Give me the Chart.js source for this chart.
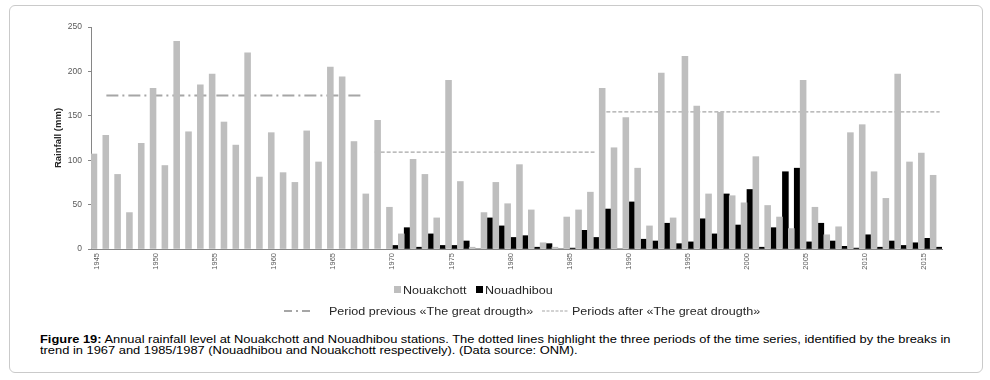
<!DOCTYPE html>
<html>
<head>
<meta charset="utf-8">
<script src="https://cdn.jsdelivr.net/npm/chart.js@4.4.1/dist/chart.umd.min.js"></script>
<style>
  body { margin: 0; background: #fff; font-family: 'Liberation Sans', Arial, sans-serif; }
  #frame { position: absolute; left: 9px; top: 5px; width: 972px; height: 366px; border: 1px solid #cacaca; border-radius: 6px; }
  #wrap { position: absolute; left: 0; top: 0; width: 990px; height: 289px; }
  .leg { position: absolute; font-size: 11px; line-height: 12px; color: #262626; white-space: nowrap; transform-origin: 0 50%; transform: scaleX(1.14); }
  .sw { position: absolute; width: 7px; height: 7px; }
  .cap { position: absolute; left: 40px; top: 334px; font-size: 11.5px; line-height: 10.5px; color: #000; white-space: nowrap; transform-origin: 0 0; transform: scaleX(1.12); }
</style>
</head>
<body>
<div id="frame"></div>
<div id="wrap"><canvas id="rain"></canvas></div>

<div class="sw" style="left:394px;top:286px;background:#bebebe"></div>
<div class="leg" style="left:403px;top:284px">Nouakchott</div>
<div class="sw" style="left:476px;top:286px;background:#000"></div>
<div class="leg" style="left:485px;top:284px">Nouadhibou</div>

<svg style="position:absolute;left:284px;top:308px" width="28" height="6">
  <line x1="0" y1="3" x2="28" y2="3" stroke="#a6a6a6" stroke-width="2" stroke-dasharray="8,4,2,4"></line>
</svg>
<div class="leg" style="left:329px;top:305px">Period previous «The great drougth»</div>
<svg style="position:absolute;left:542px;top:308px" width="26" height="6">
  <line x1="0" y1="3" x2="26" y2="3" stroke="#a6a6a6" stroke-width="1.2" stroke-dasharray="3,1.5"></line>
</svg>
<div class="leg" style="left:572px;top:305px">Periods after «The great drougth»</div>

<div class="cap"><b>Figure 19:</b> Annual rainfall level at Nouakchott and Nouadhibou stations. The dotted lines highlight the three periods of the time series, identified by the breaks in<br>trend in 1967 and 1985/1987 (Nouadhibou and Nouakchott respectively). (Data source: ONM).</div>

<script>
// years 1945 .. 2016, labelled every 5 years
const years = Array.from({ length: 72 }, (_, i) => 1945 + i);
const tickYears = [1945, 1950, 1955, 1960, 1965, 1970, 1975, 1980, 1985, 1990, 1995, 2000, 2005, 2010, 2015];

// annual rainfall (mm)
const nouakchott = [
  107, 128, 84, 41, 119, 181, 94, 234, 132, 185,
  197, 143, 117, 221, 81, 131, 86, 75, 133, 98,
  205, 194, 121, 62, 145, 47, 17, 101, 84, 35,
  190, 76, 2, 41, 75, 51, 95, 44, 7, 2,
  36, 44, 64, 181, 114, 148, 91, 26, 198, 35,
  217, 161, 62, 154, 60, 52, 104, 49, 36, 23,
  190, 47, 16, 25, 131, 140, 87, 57, 197, 98,
  108, 83
];
const nouadhibou = [
  null, null, null, null, null, null, null, null, null, null,
  null, null, null, null, null, null, null, null, null, null,
  null, null, null, null, null, 4, 24, 2, 17, 4,
  4, 9, 0, 35, 26, 13, 15, 2, 6, 0,
  1, 21, 13, 45, 0, 53, 11, 9, 29, 6,
  8, 34, 17, 62, 27, 67, 2, 24, 87, 91,
  8, 29, 9, 3, 1, 16, 2, 9, 4, 7,
  12, 2
];

// period means (mm) and the year span each line covers
const prevSpan = [1945.8, 1967.5];
const prevMean = 173;
const after1Span = [1968.5, 1987.1];
const after1Mean = 109;
const after2Span = [1988.1, 2016.3];
const after2Mean = 154.5;

const byYear = vals => years.map((x, i) => ({ x, y: vals[i] }));
const seg = (span, v) => span.map(x => ({ x, y: v }));

Chart.defaults.font.family = "'Liberation Sans', Arial, sans-serif";
Chart.defaults.color = '#595959';

new Chart(document.getElementById('rain'), {
  type: 'bar',
  data: {
    datasets: [
      {
        label: 'Nouakchott',
        data: byYear(nouakchott),
        backgroundColor: '#bebebe',
        barPercentage: 1,
        categoryPercentage: 1,
        order: 1
      },
      {
        label: 'Nouadhibou',
        data: byYear(nouadhibou),
        backgroundColor: '#000000',
        barPercentage: 1,
        categoryPercentage: 1,
        order: 1
      },
      {
        type: 'line',
        label: 'Period previous «The great drougth»',
        data: seg(prevSpan, prevMean),
        borderColor: '#a6a6a6',
        borderWidth: 2,
        borderDash: [12, 4, 2, 4],
        pointRadius: 0,
        order: 2
      },
      {
        type: 'line',
        label: 'Periods after «The great drougth»',
        data: seg(after1Span, after1Mean),
        borderColor: '#a6a6a6',
        borderWidth: 1.2,
        borderDash: [4, 2],
        pointRadius: 0,
        order: 2
      },
      {
        type: 'line',
        label: 'Periods after «The great drougth» (2)',
        data: seg(after2Span, after2Mean),
        borderColor: '#a6a6a6',
        borderWidth: 1.2,
        borderDash: [4, 2],
        pointRadius: 0,
        order: 2
      }
    ]
  },
  options: {
    responsive: true,
    maintainAspectRatio: false,
    animation: false,
    layout: { padding: { left: 49, right: 48, top: 27, bottom: 0 } },
    plugins: {
      legend: { display: false },
      tooltip: { enabled: false }
    },
    scales: {
      x: {
        type: 'linear',
        min: 1944.5,
        max: 2016.5,
        offset: false,
        grid: { display: false, offset: false },
        border: { color: '#868686' },
        afterBuildTicks: s => { s.ticks = tickYears.map(v => ({ value: v })); },
        ticks: {
          autoSkip: false,
          minRotation: 90,
          maxRotation: 90,
          padding: -4,
          font: { size: 7.5 },
          callback: v => String(v)
        },
        afterFit: s => { s.height = 40; }
      },
      y: {
        min: 0,
        max: 250,
        ticks: { stepSize: 50, padding: 6, font: { size: 8.5 } },
        grid: { drawOnChartArea: false, tickLength: 3, color: '#868686' },
        border: { color: '#868686' },
        title: {
          display: true,
          text: 'Rainfall (mm)',
          color: '#262626',
          font: { size: 9.5, weight: 'bold' }
        },
        afterFit: s => { s.width = 42; }
      }
    }
  }
});
</script>
</body>
</html>
